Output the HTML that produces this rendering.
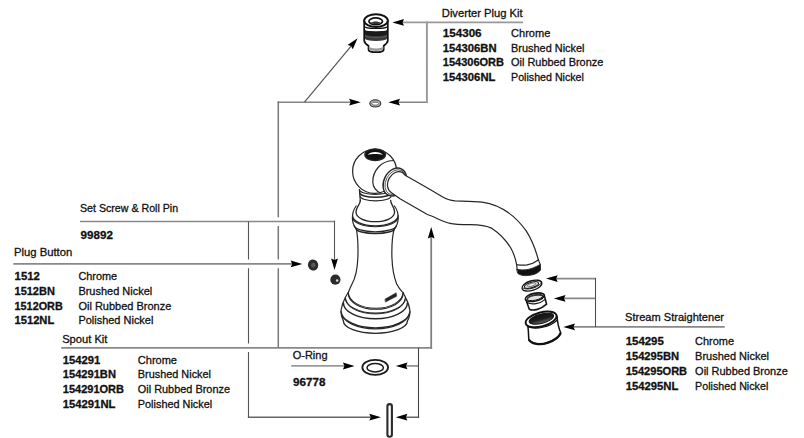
<!DOCTYPE html>
<html><head><meta charset="utf-8">
<style>
html,body{margin:0;padding:0;background:#fff;width:804px;height:438px;overflow:hidden}
svg{display:block}
text{font-family:"Liberation Sans",sans-serif;font-size:11px;fill:#111;stroke:#111;stroke-width:0.3}
.b{font-weight:bold;stroke-width:0.3}
.ln{stroke:#808080;stroke-width:1.5;fill:none}
.dk{stroke:#111;fill:#fff;stroke-width:1.1}
.dn{stroke:#111;fill:none;stroke-width:1.1}
</style></head>
<body>
<svg width="804" height="438" viewBox="0 0 804 438">
<defs>
<path id="ah" d="M0,0 L-11.7,-3.4 L-10.2,0 L-11.7,3.4 Z" fill="#000"/>
</defs>

<!-- ============ LEADER LINES ============ -->
<g fill="none" stroke-linecap="butt">
<!-- horizontals -->
<path d="M402.2,22.4 H523" stroke="#999" stroke-width="1.8"/>
<path d="M277.6,102.2 H351 M398.2,102.2 H427.8" stroke="#858585" stroke-width="1.6"/>
<path d="M80,221.5 H335.1" stroke="#888" stroke-width="1.6"/>
<path d="M13.3,263.9 H292.5" stroke="#888" stroke-width="1.6"/>
<path d="M61.2,347.8 H432.1" stroke="#888" stroke-width="1.7"/>
<path d="M291.2,365.9 H344.6" stroke="#999" stroke-width="1.8"/>
<path d="M405.8,365.9 H418.5" stroke="#888" stroke-width="1.6"/>
<path d="M247.9,417.2 H371 M405.7,417.2 H419.1" stroke="#666" stroke-width="1.4"/>
<path d="M573.3,326.9 H724.7 M556,278.6 H595.5 M563.8,298.4 H595.5" stroke="#888" stroke-width="1.7"/>
<!-- verticals -->
<path d="M278.3,347.8 V268.2 M278.3,259.5 V226 M278.3,217.3 V101.4" stroke="#777" stroke-width="1.5"/>
<path d="M248.5,221.5 V259.5 M248.5,268.2 V343.5 M248.5,352 V417.9" stroke="#555" stroke-width="1.1"/>
<path d="M334.5,220.8 V260.2" stroke="#555" stroke-width="1.1"/>
<path d="M418.5,347.8 V417.9" stroke="#444" stroke-width="1.1"/>
<path d="M595.5,277.8 V326.9" stroke="#505050" stroke-width="1.1"/>
<path d="M426.9,21.5 V103.1" stroke="#999" stroke-width="1.9"/>
<path d="M431.2,348.7 V236.8" stroke="#808080" stroke-width="1.8"/>
<!-- diagonal -->
<path d="M304.5,102.2 L351.3,45.8" stroke="#555" stroke-width="1.2"/>
</g>
<!-- arrowheads -->
<use href="#ah" transform="translate(392.3,22.4) rotate(180)"/>
<use href="#ah" transform="translate(388.3,102.2) rotate(180)"/>
<use href="#ah" transform="translate(360.8,102.2)"/>
<use href="#ah" transform="translate(357.6,38.2) rotate(-50.2)"/>
<use href="#ah" transform="translate(334.5,270.1) rotate(90)"/>
<use href="#ah" transform="translate(302.4,263.9)"/>
<use href="#ah" transform="translate(431.2,226.9) rotate(-90)"/>
<use href="#ah" transform="translate(354.6,366)"/>
<use href="#ah" transform="translate(395.8,365.9) rotate(180)"/>
<use href="#ah" transform="translate(395.7,417.2) rotate(180)"/>
<use href="#ah" transform="translate(381,417.2)"/>
<use href="#ah" transform="translate(546,278.6) rotate(180)"/>
<use href="#ah" transform="translate(553.8,298.4) rotate(180)"/>
<use href="#ah" transform="translate(563.3,326.9) rotate(180)"/>

<!-- ============ TEXT ============ -->
<!-- Diverter -->
<text x="441.8" y="16.8" textLength="80.9" lengthAdjust="spacingAndGlyphs">Diverter Plug Kit</text>
<text class="b" x="442.8" y="36.8" textLength="38.8" lengthAdjust="spacingAndGlyphs">154306</text>
<text class="b" x="442.8" y="51.5" textLength="53.8" lengthAdjust="spacingAndGlyphs">154306BN</text>
<text class="b" x="442.8" y="66.2" textLength="61.2" lengthAdjust="spacingAndGlyphs">154306ORB</text>
<text class="b" x="442.8" y="80.9" textLength="52.6" lengthAdjust="spacingAndGlyphs">154306NL</text>
<text x="511.1" y="36.8" textLength="39.2" lengthAdjust="spacingAndGlyphs">Chrome</text>
<text x="511.1" y="51.5" textLength="73.4" lengthAdjust="spacingAndGlyphs">Brushed Nickel</text>
<text x="511.1" y="66.2" textLength="92.2" lengthAdjust="spacingAndGlyphs">Oil Rubbed Bronze</text>
<text x="511.1" y="80.9" textLength="72.8" lengthAdjust="spacingAndGlyphs">Polished Nickel</text>

<!-- Set screw -->
<text x="80" y="212" textLength="98.1" lengthAdjust="spacingAndGlyphs">Set Screw &amp; Roll Pin</text>
<text class="b" x="80.6" y="238.5" textLength="32.3" lengthAdjust="spacingAndGlyphs">99892</text>

<!-- Plug button -->
<text x="14" y="256.4" textLength="58.3" lengthAdjust="spacingAndGlyphs">Plug Button</text>
<text class="b" x="14.6" y="280.2" textLength="25.2" lengthAdjust="spacingAndGlyphs">1512</text>
<text class="b" x="14.6" y="294.9" textLength="40.2" lengthAdjust="spacingAndGlyphs">1512BN</text>
<text class="b" x="14.6" y="309.6" textLength="48.1" lengthAdjust="spacingAndGlyphs">1512ORB</text>
<text class="b" x="14.6" y="324.3" textLength="39.6" lengthAdjust="spacingAndGlyphs">1512NL</text>
<text x="78.4" y="280.2" textLength="38.7" lengthAdjust="spacingAndGlyphs">Chrome</text>
<text x="78.4" y="294.9" textLength="73.8" lengthAdjust="spacingAndGlyphs">Brushed Nickel</text>
<text x="78.4" y="309.6" textLength="92.9" lengthAdjust="spacingAndGlyphs">Oil Rubbed Bronze</text>
<text x="78.4" y="324.3" textLength="75" lengthAdjust="spacingAndGlyphs">Polished Nickel</text>

<!-- Spout kit -->
<text x="62.2" y="343.1" textLength="45.2" lengthAdjust="spacingAndGlyphs">Spout Kit</text>
<text class="b" x="62.8" y="363.5" textLength="37.6" lengthAdjust="spacingAndGlyphs">154291</text>
<text class="b" x="62.8" y="378.4" textLength="53.1" lengthAdjust="spacingAndGlyphs">154291BN</text>
<text class="b" x="62.8" y="393.1" textLength="61.2" lengthAdjust="spacingAndGlyphs">154291ORB</text>
<text class="b" x="62.8" y="407.9" textLength="52.6" lengthAdjust="spacingAndGlyphs">154291NL</text>
<text x="137.8" y="363.5" textLength="39.2" lengthAdjust="spacingAndGlyphs">Chrome</text>
<text x="137.8" y="378.4" textLength="73.2" lengthAdjust="spacingAndGlyphs">Brushed Nickel</text>
<text x="137.8" y="393.1" textLength="92.2" lengthAdjust="spacingAndGlyphs">Oil Rubbed Bronze</text>
<text x="137.8" y="407.9" textLength="74.4" lengthAdjust="spacingAndGlyphs">Polished Nickel</text>

<!-- O-ring -->
<text x="292.7" y="359.4" textLength="34.8" lengthAdjust="spacingAndGlyphs">O-Ring</text>
<text class="b" x="293.1" y="385.5" textLength="32.4" lengthAdjust="spacingAndGlyphs">96778</text>

<!-- Stream straightener -->
<text x="625.1" y="321.1" textLength="98.9" lengthAdjust="spacingAndGlyphs">Stream Straightener</text>
<text class="b" x="625.7" y="345.3" textLength="38.1" lengthAdjust="spacingAndGlyphs">154295</text>
<text class="b" x="625.7" y="360" textLength="53.5" lengthAdjust="spacingAndGlyphs">154295BN</text>
<text class="b" x="625.7" y="374.8" textLength="61.4" lengthAdjust="spacingAndGlyphs">154295ORB</text>
<text class="b" x="625.7" y="389.6" textLength="52.7" lengthAdjust="spacingAndGlyphs">154295NL</text>
<text x="695.1" y="345.3" textLength="39" lengthAdjust="spacingAndGlyphs">Chrome</text>
<text x="695.1" y="360" textLength="73.9" lengthAdjust="spacingAndGlyphs">Brushed Nickel</text>
<text x="695.1" y="374.8" textLength="92.7" lengthAdjust="spacingAndGlyphs">Oil Rubbed Bronze</text>
<text x="695.1" y="389.6" textLength="73.2" lengthAdjust="spacingAndGlyphs">Polished Nickel</text>

<!-- ============ PARTS ============ -->
<!-- PARTS_START -->
<!-- ===== FAUCET ===== -->
<g stroke="#262626" stroke-width="1.2" fill="#fff" stroke-linejoin="round" stroke-linecap="round">
<!-- ball -->
<circle cx="374.6" cy="171.3" r="22"/>
<!-- hole -->
<ellipse cx="375.2" cy="154.7" rx="10.4" ry="5.9" fill="#111"/>
<path d="M367.6,155 C370,150.9 380.5,150.9 383,155 C380,153.6 370.5,153.6 367.6,155 Z" fill="#fff" stroke="none"/>
<!-- boss arc -->
<path d="M393.5,160.5 C387,160.8 382,163 378.5,167 C374.5,171.5 372.7,177 372.8,182 C372.9,187 376,191 381,193.3" fill="none"/>
<!-- neck ring + neck + collar + body fill -->
<path stroke="none" d="M359.4,189.6 A15.9,4.8 0 0 0 391.2,189.6 L391,200 C391,204 393,208 397.2,212.9 L397.8,217 L394.5,227 L392,241 L392,257 L393.5,273 C394.5,279 398,285 403,292.5 L348.3,292.5 C352,286 355,280 356,273 L357.9,257 L357.6,241 L356,227 L352.6,217 L353.3,212.9 C357,208 359.5,204 360.3,200.5 Z"/>
<!-- neck ring -->
<path d="M359.4,189.6 L360.3,200.8" fill="none"/>
<path d="M359.4,189.6 A15.9,4.8 0 0 0 391.2,189.6" fill="none"/>
<path d="M359.7,192.8 A15.7,4.5 0 0 0 391.1,192.8" fill="none" stroke-width="1.6"/>
<path d="M360.2,196.3 A15.4,4.5 0 0 0 391,196.3" fill="none"/>
<!-- neck flare + U -->
<path d="M360.3,200.5 C360.3,204.5 356,207 356,212 C356,218 365,221.7 375.3,221.7 C385.6,221.7 394.6,218 394.6,212 C394.6,207 390.6,204.5 390.6,200.3" fill="none" stroke-width="1.3"/>
<!-- collar silhouette -->
<path d="M356.2,206 C353.8,209 352.3,214 352.4,218.6 C352.5,222 353.5,225.5 356,228.6" fill="none"/>
<path d="M394.4,206 C396.8,209 398.3,214 398.2,218.6 C398.1,222 397.1,225.5 394.6,228.6" fill="none"/>
<!-- collar arcs -->
<path d="M352.5,215.6 A22.8,10.3 0 0 0 398.1,215.6" fill="none" stroke-width="1.2"/>
<path d="M352.8,217.5 A22.5,9.3 0 0 0 397.8,217.5" fill="none" stroke-width="1.1"/>
<path d="M354.2,225.6 A21.1,6.2 0 0 0 396.4,225.6" fill="none" stroke-width="1.3"/>
<path d="M356.1,228.4 A19.2,5.2 0 0 0 394.5,228.4" fill="none" stroke-width="1.5"/>
<!-- body sides -->
<path d="M356.3,228.5 C357.5,235 358.3,245 357.9,257 C357.6,266 356.5,276 352,284 C350.5,287 349.5,289.5 348.3,292.5" fill="none"/>
<path d="M394.3,228.5 C392.5,235 391.6,245 391.9,257 C392.2,266 393.5,276 396.7,284 C398.5,287.5 400.5,290 403,292.8" fill="none"/>
<!-- base fill -->
<path stroke="none" d="M348.3,292.5 L345.3,297.5 L341,310.5 L342.8,319 L346,324 A32,12 0 0 0 405,324 L409.2,317.8 L409.8,310.5 L405.5,297.5 L403,292.5 Z"/>
<!-- base rings -->
<path d="M348.3,292.3 A27.4,16 0 0 0 403.1,292.3" fill="none" stroke-width="1.1"/>
<path d="M348.3,293.6 A27.4,15.7 0 0 0 403.1,293.6" fill="none" stroke-width="1.1"/>
<path d="M345.3,297.5 A30.1,15.6 0 0 0 405.5,297.5" fill="none" stroke-width="1.1"/>
<path d="M345.6,298.9 A29.8,15 0 0 0 405.2,298.9" fill="none" stroke-width="1"/>
<path d="M343.4,303 A32,15.8 0 0 0 407.4,303" fill="none" stroke-width="1.5"/>
<path d="M341,311.6 A34.5,17.2 0 0 0 409.9,311.6" fill="none" stroke-width="1.2"/>
<path d="M341.2,312.8 A34.3,16.9 0 0 0 409.7,312.8" fill="none" stroke-width="1.2"/>
<path d="M343.4,321 A32,12.3 0 0 0 407.4,321" fill="none" stroke-width="1.3"/>
<!-- base silhouette -->
<path d="M348.3,292.5 C347,294.5 346,296 345.3,297.5 C343,302 341.5,306 341,310.5 C340.8,314 341.5,317 343.4,321" fill="none"/>
<path d="M403,292.5 C404,294.5 405,296 405.5,297.5 C408,302 409.5,306 409.9,310.5 C410,314 409.3,318 407.4,321" fill="none"/>
<!-- logo -->
<path d="M385.2,299 L396.2,292.8 L396.7,296.2 L385.6,302 Z" fill="#222" stroke-width="0.5"/>
<!-- spout ring -->
<ellipse cx="394.8" cy="182" rx="10.8" ry="14.7" transform="rotate(28 394.8 182)" stroke-width="1.4"/>
<ellipse cx="395.3" cy="182.2" rx="9.4" ry="13.2" transform="rotate(28 395.3 182.2)" fill="none" stroke-width="0.7"/>
<!-- spout -->
<path d="M402.3,172.35 L405.5,175.5 C418,182.5 432,190.5 441,196 C446,199 450,200.6 455,200.9 C463,201.2 474,201.3 482,202.1 C500,204.5 514,214 526.2,230.9 C532,240 535.5,249 538.4,260 C535,262.5 531,264.2 527,264.9 C524,265.3 520,265.2 516.6,264.6 C515.5,258 513,252 510.8,248 C506,240 499,233 492,228.4 C485,225 478,224.8 470,224.7 C462,224.6 455,224.5 450,223.3 C443,222 433,216 427.4,214.5 L400,198.8 L391.5,192.65 A9,11.5 28 0 1 402.3,172.35 Z"/>
<!-- spout tip -->
<path d="M517,269.3 C520,270 523,270 526,269.8 C530,269.3 535,267.5 540.4,264.4 L540.5,270 C539,272.5 535,274.5 531.2,275.1 C528,275.6 525,275.7 523,275.5 C520.5,275 518.8,274.3 517.9,273.5 Z" fill="#111" stroke-width="0.9"/>
<path d="M516.6,264.6 L517.2,269.6 M538.3,259.6 L540.3,264.6" fill="none"/>
</g>
<!-- ===== DIVERTER PLUG ===== -->
<g stroke="#111" stroke-linejoin="round">
<path d="M364.2,20.7 V40.6 C364.4,43 366.5,44.5 368.5,45.8 V49.7 A7.6,2.5 0 0 0 383.7,49.7 V45.8 C385.5,44.5 387.6,43 387.8,40.6 V20.7 Z" fill="#fff" stroke-width="1.7"/>
<path d="M368.8,46.2 A7.3,2.3 0 0 0 383.4,46.2 L383.4,48.6 A7.3,2.3 0 0 1 368.8,48.6 Z" fill="#9a9a9a" stroke="none"/>
<path d="M365,29.9 A11,1.7 0 0 0 387,29.9 L387,38.8 A11,2.1 0 0 1 365,38.8 Z" fill="#3a3a3a" stroke="none"/>
<path d="M365,29.9 A11,1.7 0 0 0 387,29.9 L387,34 A11,2 0 0 1 365,34 Z" fill="#1a1a1a" stroke="none"/>
<path d="M365,35.5 A11,2 0 0 0 387,35.5" fill="none" stroke="#666" stroke-width="0.7"/>
<path d="M364.4,26.2 A11.6,2.3 0 0 0 387.6,26.2" fill="none" stroke-width="1.2"/>
<ellipse cx="376" cy="20.6" rx="11.8" ry="6.4" fill="#fff" stroke-width="1.9"/>
<ellipse cx="375.7" cy="21.3" rx="6.8" ry="3.4" fill="#fff" stroke-width="1.7"/>
<path d="M370.8,23 C372.5,21 379,21 380.6,23 C378.5,24.3 373,24.3 370.8,23 Z" fill="#333" stroke="none"/>
</g>
<!-- small o-ring -->
<ellipse cx="375.3" cy="103.4" rx="5.5" ry="3.6" fill="#a8a8a8" stroke="#333" stroke-width="1.1"/>
<ellipse cx="375.3" cy="103.7" rx="3.4" ry="1.4" fill="#fff" stroke="#555" stroke-width="0.7"/>
<!-- plug button -->
<ellipse cx="313.1" cy="265" rx="5.1" ry="5.6" fill="#2b2b2b" transform="rotate(-20 313.1 265)"/>
<ellipse cx="313.3" cy="265.2" rx="2.2" ry="2.4" fill="#555"/>
<!-- set screw -->
<circle cx="335.4" cy="279.7" r="5.1" fill="#2b2b2b"/>
<circle cx="337.2" cy="280.5" r="1.3" fill="#ddd"/>
<!-- washer -->
<g stroke="#151515" stroke-linejoin="round">
<ellipse cx="531.9" cy="285.6" rx="10.3" ry="4.8" transform="rotate(-17 531.9 285.6)" fill="#fff" stroke-width="1.4"/>
<path d="M522.3,287.3 A10.2,4.6 -17 0 0 541.6,281.5" fill="none" stroke-width="0.9"/>
<ellipse cx="531.5" cy="285" rx="7.4" ry="2.7" transform="rotate(-17 531.5 285)" fill="#d6d6d6" stroke-width="1"/>
<ellipse cx="531.6" cy="284.8" rx="4.4" ry="1.4" transform="rotate(-17 531.6 284.8)" fill="#f4f4f4" stroke="#666" stroke-width="0.8"/>
</g>
<!-- insert -->
<g stroke="#151515" stroke-linejoin="round">
<path d="M525.6,298.8 L529.3,309.2 C533,311 541,309.5 546.6,304.2 L544.3,295.4 Z" fill="#fff" stroke-width="1.6"/>
<path d="M526.6,302.3 C532,305.3 540,303.8 545.3,299.3" fill="none" stroke-width="1.1"/>
<ellipse cx="534.8" cy="297.2" rx="9.6" ry="3.9" transform="rotate(-12 534.8 297.2)" fill="#fff" stroke-width="1.7"/>
<ellipse cx="534.9" cy="297.5" rx="7.9" ry="2.7" transform="rotate(-12 534.9 297.5)" fill="#e2e2e2" stroke-width="0.9"/>
<path d="M527.5,298.4 C530,295.2 539,294.2 542.8,295.6" fill="none" stroke="#333" stroke-width="1.4"/>
</g>
<!-- cup -->
<g stroke="#111" stroke-linejoin="round">
<path d="M527.6,323 C528.3,329 528.6,334 528.8,339.4 C532,344 540,345.5 548,342.5 C555,340 559.5,336.5 560.7,332.7 C558.8,328.5 557.5,323 557,316 Z" fill="#fff" stroke-width="1.5"/>
<path d="M528.8,339.6 C532,344.3 540,345.6 548,342.6 C555,340 559.5,336.6 560.7,332.8" fill="none" stroke-width="2.3"/>
<path d="M527.3,326.6 C536,330.3 550,327 557.4,320" fill="none" stroke-width="1.1"/>
<ellipse cx="541.1" cy="319.4" rx="15.9" ry="6.9" transform="rotate(-15 541.1 319.4)" fill="#fff" stroke-width="1.9"/>
<linearGradient id="cupg" x1="0" y1="0" x2="0" y2="1"><stop offset="0" stop-color="#111"/><stop offset="0.55" stop-color="#1d1d1d"/><stop offset="1" stop-color="#6a6a6a"/></linearGradient>
<ellipse cx="541.4" cy="318.7" rx="12.6" ry="4.6" transform="rotate(-15 541.4 318.7)" fill="url(#cupg)" stroke-width="1"/>
</g>
<!-- o-ring -->
<ellipse cx="375.2" cy="367.4" rx="12.85" ry="7.55" fill="none" stroke="#1a1a1a" stroke-width="1.8"/>
<ellipse cx="375.2" cy="367.7" rx="8.2" ry="4.2" fill="none" stroke="#1a1a1a" stroke-width="1.5"/>
<!-- pin -->
<rect x="387.4" y="404.1" width="4.5" height="32.7" rx="2.25" ry="2.25" fill="#fff" stroke="#2a2a2a" stroke-width="2.1"/>

<!-- PARTS_END -->
</svg>
</body></html>
